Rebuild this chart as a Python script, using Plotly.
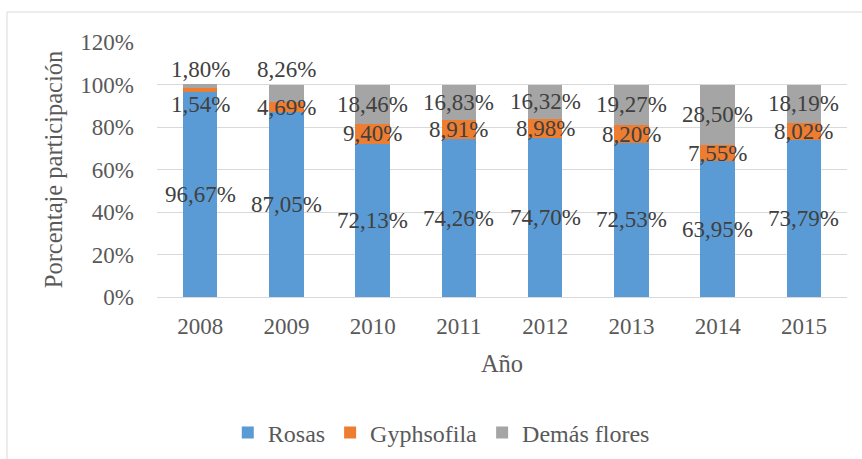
import plotly.graph_objects as go

years = ["2008", "2009", "2010", "2011", "2012", "2013", "2014", "2015"]
rosas = [96.67, 87.05, 72.13, 74.26, 74.70, 72.53, 63.95, 73.79]
gyphsofila = [1.54, 4.69, 9.40, 8.91, 8.98, 8.20, 7.55, 8.02]
demas = [1.80, 8.26, 18.46, 16.83, 16.32, 19.27, 28.50, 18.19]
y_ticks = [0, 20, 40, 60, 80, 100, 120]

series = [("Rosas", rosas, "#5B9BD5"),
          ("Gyphsofila", gyphsofila, "#ED7D31"),
          ("Demás flores", demas, "#A5A5A5")]

# label offsets (px) where the source moved overlapping labels
label_shift = {("Gyphsofila", "2008"): -15, ("Demás flores", "2008"): 17,
               ("Demás flores", "2009"): 24}

FONT = "Liberation Serif"
fig = go.Figure()
annotations = []
base = [0.0] * len(years)
for name, vals, col in series:
    fig.add_trace(go.Bar(x=years, y=vals, name=name, marker_color=col,
                         marker_line_width=0))
    for i, (yr, v) in enumerate(zip(years, vals)):
        annotations.append(dict(
            x=i, y=base[i] + v / 2, xref="x", yref="y",
            text=f"{v:.2f}%".replace(".", ","), showarrow=False,
            yshift=label_shift.get((name, yr), 0),
            font=dict(family=FONT, size=23, color="#404040")))
        base[i] += v

shapes = [
    dict(type="line", xref="paper", yref="paper", x0=-0.2174, x1=-0.2174,
         y0=1.1176, y1=-1.0, line=dict(color="#D9D9D9", width=1)),
    dict(type="line", xref="paper", yref="paper", x0=-0.2174, x1=1.2,
         y0=1.1176, y1=1.1176, line=dict(color="#D9D9D9", width=1)),
]

fig.update_layout(
    barmode="stack", bargap=0.6,
    width=862, height=459,
    margin=dict(l=157, r=15, t=42, b=162, autoexpand=False),
    paper_bgcolor="white", plot_bgcolor="white",
    font=dict(family=FONT, size=23, color="#595959"),
    annotations=annotations, shapes=shapes,
    legend=dict(orientation="h", x=0.412, xanchor="center", y=-0.533,
                yanchor="middle", font=dict(size=24, color="#595959"),
                itemwidth=30, traceorder="normal"),
    xaxis=dict(type="category", range=[-0.5, len(years) - 0.5],
               showgrid=False, ticks="",
               ticklabelstandoff=13, showline=False, zeroline=False,
               title=dict(text="Año", standoff=16,
                          font=dict(size=24.5, color="#595959"))),
    yaxis=dict(range=[0, 120], tickvals=y_ticks,
               ticktext=[f"{t}%" for t in y_ticks],
               showgrid=True, gridcolor="#D9D9D9", gridwidth=1.3,
               zeroline=True, zerolinecolor="#D9D9D9", zerolinewidth=1.3,
               ticks="", ticklabelstandoff=22,
               title=dict(text="Porcentaje participación", standoff=10,
                          font=dict(size=24.5, color="#595959"))),
)

fig.write_html("out.html", config={"displayModeBar": False},
               post_script="document.body.style.margin='0';")
